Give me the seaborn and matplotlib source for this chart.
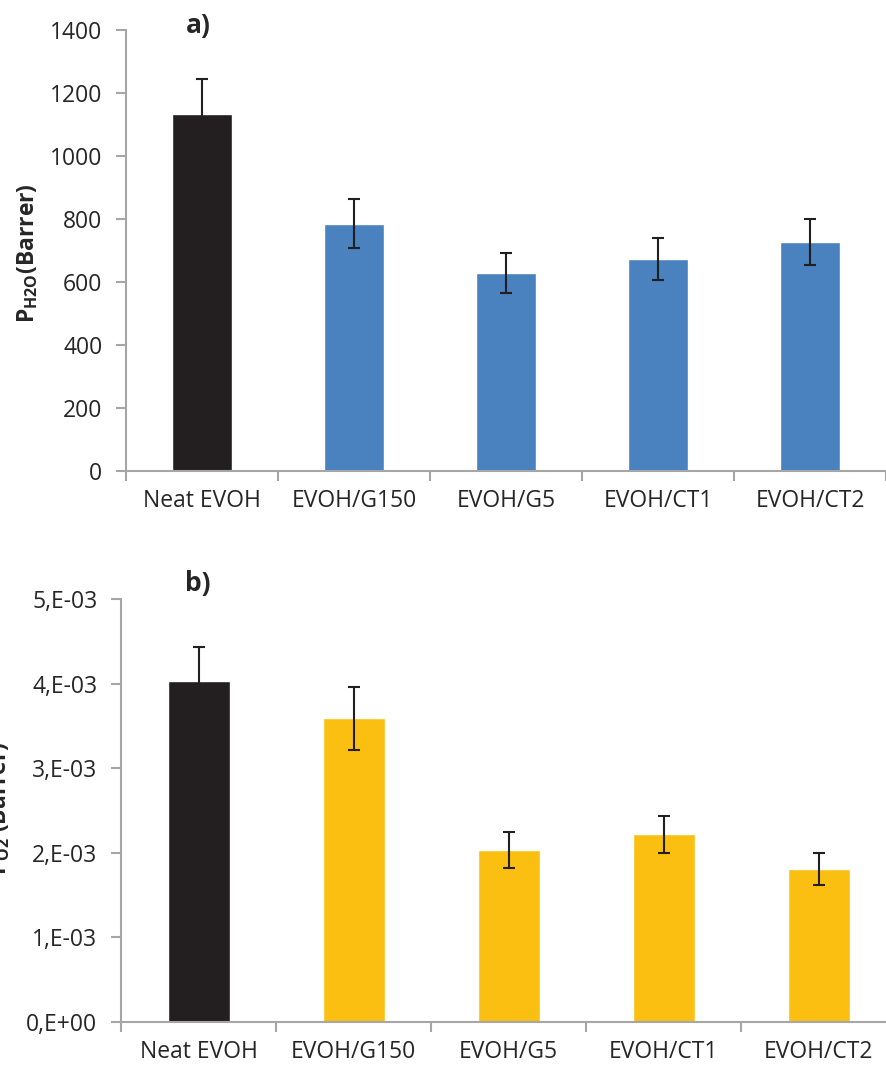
import numpy as np
import pandas as pd
import seaborn as sns
import matplotlib.pyplot as plt
from matplotlib.ticker import FixedLocator

# data
samples = ["Neat EVOH", "EVOH/G150", "EVOH/G5", "EVOH/CT1", "EVOH/CT2"]
p_h2o = [1133, 785, 629, 672, 726]
p_h2o_err = [111, 78, 63, 67, 73]
p_o2 = [4.03e-3, 3.59e-3, 2.03e-3, 2.22e-3, 1.81e-3]
p_o2_err = [0.40e-3, 0.37e-3, 0.21e-3, 0.22e-3, 0.185e-3]
h2o_ticks = [0, 200, 400, 600, 800, 1000, 1200, 1400]
o2_ticks = [0, 1e-3, 2e-3, 3e-3, 4e-3, 5e-3]
o2_ticklabels = ["0,E+00", "1,E-03", "2,E-03", "3,E-03", "4,E-03", "5,E-03"]

sns.set_style("white")
plt.rcParams["font.family"] = ["Open Sans", "DejaVu Sans"]
plt.rcParams["mathtext.fontset"] = "custom"
plt.rcParams["mathtext.rm"] = "Open Sans:bold"
plt.rcParams["mathtext.it"] = "Open Sans:bold"

black = "#231F20"
blue = "#4A81BF"
yellow = "#FBBF12"
grey = "#A6A6A6"
txt = "#262626"
fs = 16.5

df = pd.DataFrame({"sample": samples, "h2o": p_h2o, "h2o_err": p_h2o_err,
                   "o2": p_o2, "o2_err": p_o2_err})

fig = plt.figure(figsize=(8.86, 10.72), dpi=100)
ax1 = fig.add_axes([126 / 886, 1 - 471 / 1072, 760 / 886, 441 / 1072])
ax2 = fig.add_axes([121 / 886, 1 - 1022 / 1072, 775 / 886, 423 / 1072])


def style_axis(ax):
    for s in ["top", "right"]:
        ax.spines[s].set_visible(False)
    for s in ["left", "bottom"]:
        ax.spines[s].set_color(grey)
        ax.spines[s].set_linewidth(1.5)
    ax.set_xlim(-0.5, len(samples) - 0.5)
    ax.xaxis.set_minor_locator(FixedLocator(np.arange(-0.5, len(samples), 1.0)))
    ax.tick_params(axis="x", which="major", length=0, pad=13, labelsize=fs, labelcolor=txt)
    ax.tick_params(axis="x", which="minor", length=7, width=1.5, color=grey, direction="out", bottom=True)
    ax.tick_params(axis="y", length=7, width=1.5, color=grey, direction="out", left=True,
                   labelsize=fs, labelcolor=txt, pad=10)
    ax.set_xlabel("")
    ax.set_ylabel("")


# panel a
sns.barplot(data=df, x="sample", y="h2o", hue="sample",
            palette=[black, blue, blue, blue, blue], width=0.4, legend=False, ax=ax1,
            saturation=1)
ax1.errorbar(df["sample"], df["h2o"], yerr=df["h2o_err"], fmt="none", ecolor=black,
             elinewidth=1.5, capsize=4.5, capthick=1.5)
ax1.set_ylim(0, 1400)
ax1.set_yticks(h2o_ticks)
style_axis(ax1)

# panel b
sns.barplot(data=df, x="sample", y="o2", hue="sample",
            palette=[black, yellow, yellow, yellow, yellow], width=0.4, legend=False, ax=ax2,
            saturation=1)
ax2.errorbar(df["sample"], df["o2"], yerr=df["o2_err"], fmt="none", ecolor=black,
             elinewidth=1.5, capsize=4.5, capthick=1.5)
ax2.set_ylim(0, 5e-3)
ax2.set_yticks(o2_ticks)
ax2.set_yticklabels(o2_ticklabels)
style_axis(ax2)

# labels and panel letters (panel b label is cut at the left edge, as in the source)
fig.text(28 / 886, 1 - 253 / 1072, r"$\mathrm{P_{H2O}}$(Barrer)", rotation=90,
         ha="center", va="center", fontsize=fs, fontweight="bold", color=txt)
fig.text(0 / 886, 1 - 808 / 1072, r"$\mathrm{P_{O2}}$ (Barrer)", rotation=90,
         ha="center", va="center", fontsize=fs, fontweight="bold", color=txt)
fig.text(198 / 886, 1 - 25 / 1072, "a)", ha="center", va="center",
         fontsize=19, fontweight="bold", color=txt)
fig.text(198 / 886, 1 - 583 / 1072, "b)", ha="center", va="center",
         fontsize=19, fontweight="bold", color=txt)

fig.savefig("out.png", dpi=100)
